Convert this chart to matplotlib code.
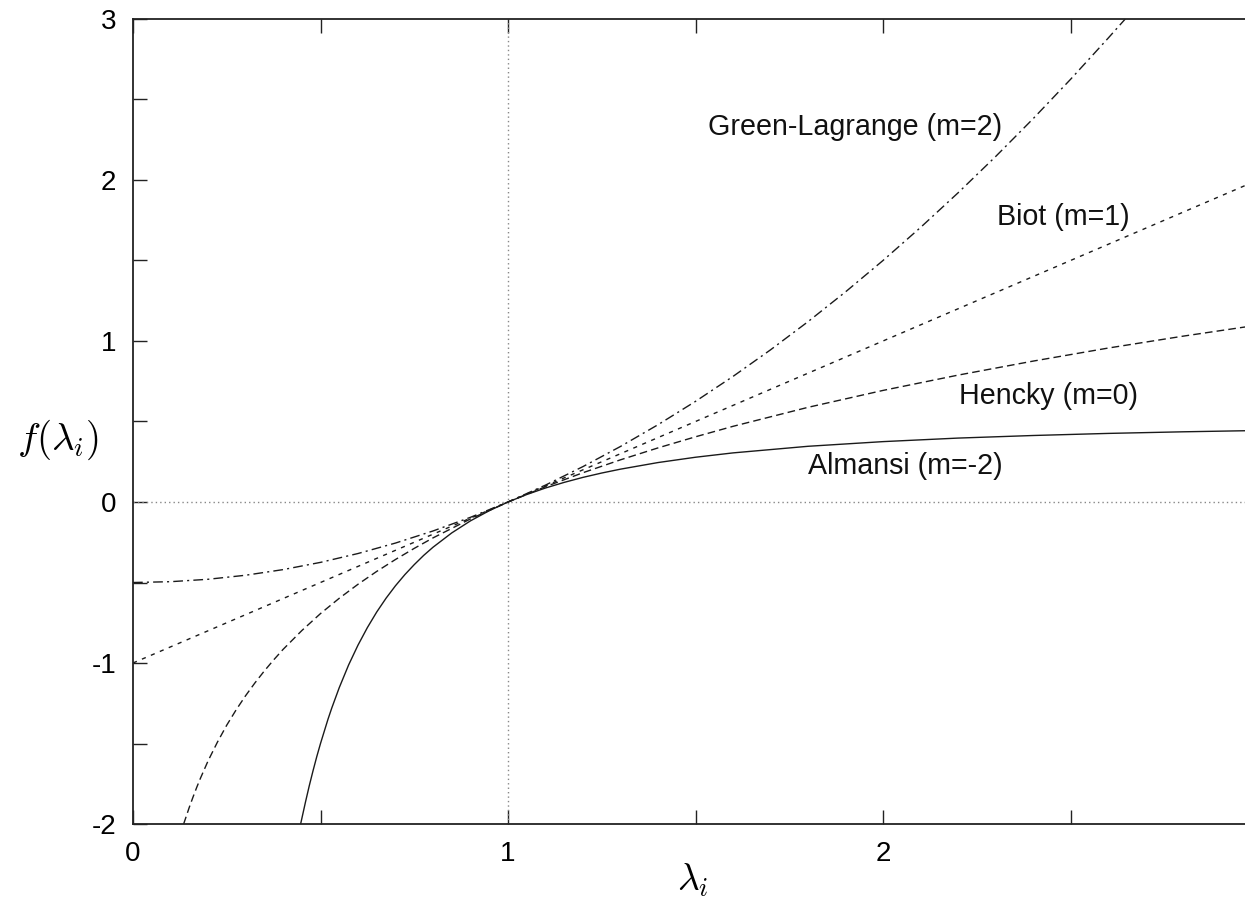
import matplotlib
matplotlib.use("Agg")
import matplotlib.pyplot as plt
from matplotlib.ticker import MultipleLocator, FuncFormatter

plt.rcParams["font.family"] = ["Liberation Sans", "DejaVu Sans"]
plt.rcParams["mathtext.fontset"] = "cm"
plt.rcParams["lines.scale_dashes"] = False

# values
gl_lam = [0.0, 0.1, 0.2, 0.3, 0.4, 0.5, 0.6, 0.7, 0.8, 0.9, 1.0, 1.1, 1.2, 1.3,
          1.4, 1.5, 1.6, 1.7, 1.8, 1.9, 2.0, 2.1, 2.2, 2.3, 2.4, 2.5, 2.6, 2.646]
gl_f = [-0.5, -0.495, -0.48, -0.455, -0.42, -0.375, -0.32, -0.255, -0.18, -0.095,
        0.0, 0.105, 0.22, 0.345, 0.48, 0.625, 0.78, 0.945, 1.12, 1.305, 1.5,
        1.705, 1.92, 2.145, 2.38, 2.625, 2.88, 3.0]

biot_lam = [0.0, 0.5, 1.0, 1.5, 2.0, 2.5, 3.0]
biot_f = [-1.0, -0.5, 0.0, 0.5, 1.0, 1.5, 2.0]

hencky_lam = [0.135, 0.14, 0.15, 0.16, 0.17, 0.18, 0.2, 0.225, 0.25, 0.275, 0.3,
              0.325, 0.35, 0.375, 0.4, 0.45, 0.5, 0.55, 0.6, 0.65, 0.7, 0.75,
              0.8, 0.9, 1.0, 1.1, 1.2, 1.3, 1.4, 1.5, 1.6, 1.8, 2.0, 2.2, 2.4,
              2.6, 2.8, 3.0]
hencky_f = [-2.0, -1.966, -1.897, -1.833, -1.772, -1.715, -1.609, -1.492, -1.386,
            -1.291, -1.204, -1.124, -1.05, -0.981, -0.916, -0.799, -0.693,
            -0.598, -0.511, -0.431, -0.357, -0.288, -0.223, -0.105, 0.0, 0.095,
            0.182, 0.262, 0.336, 0.405, 0.47, 0.588, 0.693, 0.788, 0.875, 0.956,
            1.03, 1.099]

almansi_lam = [0.447, 0.46, 0.47, 0.48, 0.49, 0.5, 0.52, 0.53, 0.55, 0.575, 0.6,
               0.625, 0.65, 0.675, 0.7, 0.725, 0.75, 0.775, 0.8, 0.85, 0.9,
               0.95, 1.0, 1.05, 1.1, 1.15, 1.2, 1.25, 1.3, 1.4, 1.5, 1.6, 1.8,
               2.0, 2.2, 2.4, 2.6, 2.8, 3.0]
almansi_f = [-2.0, -1.863, -1.763, -1.67, -1.582, -1.5, -1.349, -1.28, -1.153,
             -1.012, -0.889, -0.78, -0.683, -0.597, -0.52, -0.451, -0.389,
             -0.332, -0.281, -0.192, -0.117, -0.054, 0.0, 0.0465, 0.087, 0.122,
             0.153, 0.18, 0.204, 0.245, 0.278, 0.305, 0.346, 0.375, 0.397,
             0.413, 0.426, 0.436, 0.444]

labels = ["Green-Lagrange (m=2)", "Biot (m=1)", "Hencky (m=0)", "Almansi (m=-2)"]
label_x = [1.533, 2.304, 2.203, 1.80]
label_y = [2.33, 1.77, 0.66, 0.225]

fig = plt.figure(figsize=(12.45, 8.97), dpi=100)
# the right end of the axis (x=3) lies just outside the picture
ax = fig.add_axes([133 / 1245, 73 / 897, 1125 / 1245, 805 / 897])

line_col = "#1a1a1a"
ax.axhline(0, color="#888888", lw=1.0, dashes=(1.0, 2.2))
ax.axvline(1, color="#888888", lw=1.0, dashes=(1.0, 2.2))

ax.plot(gl_lam, gl_f, color=line_col, lw=1.0, dashes=(7, 3, 1.5, 3))
ax.plot(biot_lam, biot_f, color=line_col, lw=1.0, dashes=(3, 4))
ax.plot(hencky_lam, hencky_f, color=line_col, lw=1.0, dashes=(5.5, 3))
ax.plot(almansi_lam, almansi_f, color=line_col, lw=1.0)

for txt, x, y in zip(labels, label_x, label_y):
    ax.text(x, y, txt, fontsize=20.6, ha="left", va="center", color="#111111")

ax.set_xlim(0, 3)
ax.set_ylim(-2, 3)

def y_labels(v, pos):
    if abs(v - round(v)) < 1e-6:
        return f"{int(round(v))}"
    return ""

def x_labels(v, pos):
    # the label "3" would sit outside the cropped picture
    if abs(v - round(v)) < 1e-6 and v < 2.9:
        return f"{int(round(v))}"
    return ""

ax.xaxis.set_major_locator(MultipleLocator(0.5))
ax.yaxis.set_major_locator(MultipleLocator(0.5))
ax.xaxis.set_major_formatter(FuncFormatter(x_labels))
ax.yaxis.set_major_formatter(FuncFormatter(y_labels))
ax.tick_params(direction="in", length=10, width=1.0, labelsize=20,
               top=True, right=False, color="#222222")
ax.tick_params(axis="x", pad=12)
ax.tick_params(axis="y", pad=12)

for s in ax.spines.values():
    s.set_linewidth(1.3)
    s.set_color("#222222")

ax.set_xlabel(r"$\lambda_i$", fontsize=27)
ax.xaxis.set_label_coords(0.498, -0.07)
ax.xaxis.label.set_va("center")
ax.set_ylabel(r"$f(\lambda_i)$", fontsize=28, rotation=0, ha="center", va="center")
ax.yaxis.set_label_coords(-0.067, 0.477)

fig.savefig("out.png", dpi=100)
